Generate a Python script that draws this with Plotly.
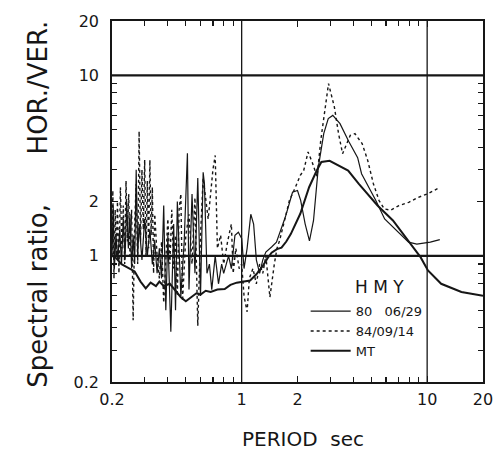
import plotly.graph_objects as go

# ---- data (period sec, spectral ratio) ----
p_80 = [0.200, 0.203, 0.206, 0.210, 0.215, 0.220, 0.225, 0.230, 0.235, 0.240, 0.245, 0.250,
        0.255, 0.260, 0.265, 0.270, 0.275, 0.280, 0.290, 0.300, 0.310, 0.320, 0.330, 0.340,
        0.350, 0.360, 0.370, 0.380, 0.390, 0.400, 0.415, 0.430, 0.440, 0.450, 0.470, 0.490,
        0.510, 0.520, 0.540, 0.560, 0.580, 0.600, 0.620, 0.630, 0.650, 0.670, 0.690, 0.720,
        0.750, 0.780, 0.800, 0.850, 0.880, 0.920, 0.960, 1.000, 1.030, 1.070, 1.120, 1.160,
        1.200, 1.250, 1.300, 1.350, 1.450, 1.540, 1.720, 1.880, 2.000, 2.080, 2.200, 2.320,
        2.440, 2.590, 2.770, 2.930, 3.100, 3.390, 3.780, 4.220, 4.430, 5.280, 5.900, 6.840,
        7.940, 8.800, 10.40, 11.70]
v_80 = [1.00, 1.90, 0.85, 1.30, 0.95, 1.40, 0.90, 1.60, 0.95, 2.00, 1.10, 1.70,
        0.85, 1.30, 0.90, 3.00, 1.00, 1.50, 0.95, 1.60, 1.00, 1.40, 0.90, 1.20,
        0.80, 1.10, 0.75, 1.90, 0.50, 1.30, 0.38, 1.50, 0.50, 2.00, 0.60, 1.20,
        3.70, 0.65, 2.20, 0.80, 2.70, 0.60, 2.90, 2.50, 0.80, 0.90, 0.65, 1.00,
        0.70, 0.90, 0.80, 1.00, 0.85, 1.30, 1.35, 1.25, 0.85, 1.10, 1.70, 1.50,
        0.95, 0.80, 0.95, 1.05, 1.12, 1.19, 1.64, 2.25, 2.30, 2.03, 1.50, 1.21,
        1.57, 3.10, 4.75, 5.76, 6.00, 5.40, 4.30, 3.50, 2.85, 2.03, 1.60, 1.38,
        1.19, 1.16, 1.19, 1.23]

p_84 = [0.200, 0.202, 0.205, 0.208, 0.211, 0.214, 0.218, 0.222, 0.226, 0.230, 0.234, 0.238,
        0.242, 0.246, 0.250, 0.255, 0.260, 0.265, 0.270, 0.275, 0.280, 0.285, 0.290, 0.295,
        0.300, 0.305, 0.310, 0.315, 0.320, 0.325, 0.330, 0.335, 0.340, 0.350, 0.360, 0.370,
        0.380, 0.390, 0.400, 0.410, 0.420, 0.430, 0.440, 0.450, 0.460, 0.470, 0.480, 0.500,
        0.520, 0.540, 0.560, 0.580, 0.600, 0.620, 0.640, 0.660, 0.680, 0.700, 0.720, 0.740,
        0.770, 0.800, 0.840, 0.880, 0.900, 0.930, 0.970, 1.000, 1.030, 1.070, 1.100, 1.150,
        1.200, 1.250, 1.300, 1.350, 1.420, 1.450, 1.500, 1.550, 1.600, 1.720, 1.810, 1.950,
        2.070, 2.160, 2.280, 2.400, 2.550, 2.670, 2.800, 2.940, 3.160, 3.330, 3.500, 3.630,
        3.850, 4.080, 4.460, 4.780, 5.130, 5.500, 5.870, 6.370, 7.050, 7.960, 8.980, 10.10,
        11.50]
v_84 = [1.00, 2.30, 0.75, 1.80, 1.00, 2.00, 0.80, 2.40, 1.10, 1.90, 0.90, 2.60,
        1.20, 2.20, 1.00, 1.80, 0.44, 1.50, 2.50, 0.90, 4.90, 1.20, 3.00, 1.40,
        3.40, 1.00, 2.60, 1.10, 3.40, 1.30, 2.40, 0.80, 1.70, 1.00, 0.75, 1.20,
        0.55, 1.00, 1.60, 0.90, 1.80, 0.85, 1.30, 0.60, 1.80, 2.20, 0.56, 1.30,
        1.70, 0.90, 2.10, 0.41, 1.30, 2.70, 2.10, 1.60, 2.20, 3.00, 3.60, 1.10,
        1.30, 0.90, 1.20, 1.50, 0.80, 1.10, 0.85, 0.90, 0.60, 0.49, 0.75, 0.85,
        0.70, 0.90, 0.80, 1.00, 0.59, 0.70, 0.90, 1.10, 1.21, 1.64, 2.03, 2.40,
        2.79, 2.97, 3.76, 3.30, 2.75, 4.37, 6.41, 9.00, 6.68, 4.75, 3.68, 4.01,
        4.65, 4.75, 4.19, 3.38, 2.51, 2.03, 1.82, 1.79, 1.90, 1.98, 2.11, 2.21,
        2.37]

p_mt = [0.200, 0.211, 0.225, 0.245, 0.265, 0.285, 0.304, 0.323, 0.345, 0.360, 0.380, 0.410,
        0.440, 0.470, 0.500, 0.535, 0.570, 0.600, 0.640, 0.680, 0.740, 0.810, 0.870, 0.940,
        1.020, 1.110, 1.200, 1.300, 1.380, 1.450, 1.550, 1.640, 1.740, 1.840, 2.070, 2.310,
        2.540, 2.690, 2.980, 3.450, 3.750, 4.270, 5.400, 6.540, 7.430, 8.460, 9.230, 10.10,
        11.90, 15.30, 20.00]
v_mt = [1.00, 0.97, 0.90, 0.86, 0.82, 0.72, 0.66, 0.71, 0.68, 0.72, 0.68, 0.70,
        0.64, 0.59, 0.56, 0.59, 0.62, 0.61, 0.64, 0.63, 0.65, 0.655, 0.69, 0.71,
        0.72, 0.73, 0.79, 0.88, 0.97, 1.04, 1.09, 1.11, 1.20, 1.32, 1.71, 2.40,
        2.97, 3.31, 3.36, 3.10, 2.97, 2.51, 1.90, 1.57, 1.32, 1.11, 0.98, 0.83,
        0.70, 0.63, 0.60]

tick_vals = [0.2, 1, 2, 10, 20]
tick_text = ["0.2", "1", "2", "10", "20"]
minor_vals = [0.3, 0.4, 0.5, 0.6, 0.7, 0.8, 0.9, 3, 4, 5, 6, 7, 8, 9]
grid_vals = [1, 10]

INK = "#161616"
FONT = "DejaVu Sans"
NB = "\u00a0"

fig = go.Figure()
fig.add_trace(go.Scatter(x=p_80, y=v_80, mode="lines", name="80" + NB * 3 + "06/29",
                         line=dict(color=INK, width=1.2)))
fig.add_trace(go.Scatter(x=p_84, y=v_84, mode="lines", name="84/09/14",
                         line=dict(color=INK, width=1.4, dash="dot")))
fig.add_trace(go.Scatter(x=p_mt, y=v_mt, mode="lines", name="MT",
                         line=dict(color=INK, width=2)))

for g in grid_vals:
    fig.add_shape(type="line", xref="x", yref="paper", x0=g, x1=g, y0=0, y1=1,
                  line=dict(color=INK, width=1.3), layer="below")
    fig.add_shape(type="line", xref="paper", yref="y", x0=0, x1=1, y0=g, y1=g,
                  line=dict(color=INK, width=2.2), layer="below")

axis_common = dict(
    type="log", showgrid=False, zeroline=False, automargin=False,
    showline=True, linecolor=INK, linewidth=1.8, mirror="allticks",
    ticks="inside", ticklen=6, tickwidth=1.2, tickcolor=INK,
    tickmode="array", tickvals=tick_vals, ticktext=tick_text,
    tickfont=dict(family=FONT, size=16, color=INK), ticklabeloverflow="allow",
    minor=dict(ticks="inside", ticklen=5, tickwidth=1.2, tickcolor=INK,
               tickmode="array", tickvals=minor_vals),
)

fig.update_layout(
    width=493, height=452,
    margin=dict(l=112, r=10, t=21, b=70, autoexpand=False),
    paper_bgcolor="white", plot_bgcolor="white",
    xaxis=dict(range=[-0.69905, 1.30111], ticklabelstandoff=2, **axis_common),
    yaxis=dict(range=[-0.69905, 1.30111], ticklabelstandoff=8, **axis_common),
    showlegend=True,
    legend=dict(
        x=0.522, y=0.238, xanchor="left", yanchor="top",
        bgcolor="rgba(0,0,0,0)", borderwidth=0,
        font=dict(family=FONT, size=13, color=INK),
        tracegroupgap=0, itemwidth=40,
    ),
    annotations=[
        dict(text="H M Y", xref="paper", yref="paper", x=0.722, y=0.263,
             xanchor="center", yanchor="middle", showarrow=False,
             font=dict(family=FONT, size=17, color=INK)),
        dict(text="Spectral ratio," + NB * 5 + " HOR./VER.", xref="paper", yref="paper",
             x=-0.20, y=0.493, xanchor="center", yanchor="middle", textangle=-90,
             showarrow=False, font=dict(family=FONT, size=26, color=INK)),
        dict(text="PERIOD" + NB * 2 + "sec", xref="paper", yref="paper",
             x=0.515, y=-0.158, xanchor="center", yanchor="middle",
             showarrow=False, font=dict(family=FONT, size=20, color=INK)),
    ],
)

fig.write_html("out.html", config={"displayModeBar": False, "staticPlot": True},
               post_script="document.body.style.margin='0px';document.body.style.overflow='hidden';")
